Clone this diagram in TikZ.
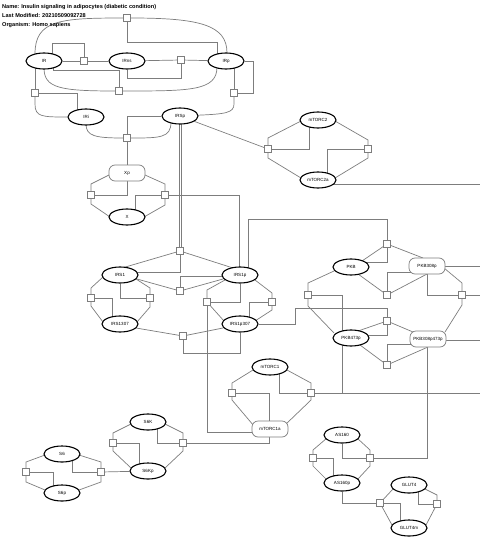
\documentclass[tikz,border=0pt]{standalone}
\usepackage{fontspec}
\setmainfont{Liberation Sans}
\usetikzlibrary{shapes.geometric,calc}
\pgfdeclarelayer{bg}
\pgfsetlayers{bg,main}
\definecolor{lncol}{RGB}{125,125,125}
\tikzset{
  ent/.style={ellipse,draw=black,line width=1.1pt,fill=white,minimum width=36pt,minimum height=16pt,inner sep=0pt,font=\fontsize{4.5}{5}\selectfont},
  rrect/.style={rectangle,rounded corners=6pt,draw=lncol,line width=0.7pt,fill=white,minimum width=36pt,minimum height=16pt,inner sep=0pt,font=\fontsize{4.5}{5}\selectfont},
  proc/.style={rectangle,draw=lncol,line width=0.7pt,fill=white,minimum size=7pt,inner sep=0pt},
  ln/.style={draw=lncol,line width=0.7pt},
}
\begin{document}
\begin{tikzpicture}[x=1pt,y=-1pt]
\useasboundingbox (0,0) rectangle (480,551);
\node[anchor=north west,align=left,inner sep=0pt,font=\bfseries\fontsize{5.6}{9}\selectfont] (hdr) at (2,4.5) {Name: Insulin signaling in adipocytes (diabetic condition)\\Last Modified: 20210509092728\\Organism: Homo sapiens};
% entities
\node[ent] (IR) at (44,61) {IR};
\node[ent] (IRns) at (127,61) {IRns};
\node[ent] (IRp) at (226,61) {IRp};
\node[ent] (IRi) at (86,117) {IRi};
\node[ent] (IRSp) at (180,116) {IRSp};
\node[rrect] (Xp) at (127,173) {Xp};
\node[ent] (X) at (127,217) {X};
\node[ent] (mTORC2) at (318,120) {mTORC2};
\node[ent] (mTORC2a) at (318,180) {mTORC2a};
\node[ent] (IRS1) at (120,275) {IRS1};
\node[ent] (IRS1p) at (240,275) {IRS1p};
\node[ent] (IRS1307) at (120,324) {IRS1307};
\node[ent] (IRS1p307) at (240,324) {IRS1p307};
\node[ent] (PKB) at (351,267) {PKB};
\node[rrect] (PKB308p) at (427,266) {PKB308p};
\node[ent] (PKB473p) at (351,338) {PKB473p};
\node[rrect] (PKB308p473p) at (428,339) {PKB308p473p};
\node[ent] (mTORC1) at (270,367) {mTORC1};
\node[rrect] (mTORC1a) at (270,429) {mTORC1a};
\node[ent] (S6K) at (148,422) {S6K};
\node[ent] (S6Kp) at (148,471) {S6Kp};
\node[ent] (S6) at (62,454) {S6};
\node[ent] (S6p) at (62,493) {S6p};
\node[ent] (AS160) at (342,435) {AS160};
\node[ent] (AS160p) at (342,483) {AS160p};
\node[ent] (GLUT4) at (409,485) {GLUT4};
\node[ent] (GLUT4m) at (409,528) {GLUT4m};
% process squares
\node[proc] (A0) at (127,18) {};
\node[proc] (A1) at (84,61) {};
\node[proc] (A2) at (181,60) {};
\node[proc] (A3) at (119,91) {};
\node[proc] (A4) at (35,93) {};
\node[proc] (A5) at (234,93) {};
\node[proc] (B1) at (127,138) {};
\node[proc] (C1) at (91,195) {};
\node[proc] (C2) at (165,195) {};
\node[proc] (D1) at (180,251) {};
\node[proc] (D2) at (180,291) {};
\node[proc] (D3) at (91,298) {};
\node[proc] (D4) at (150,298) {};
\node[proc] (D5) at (183,336) {};
\node[proc] (D6) at (207,302) {};
\node[proc] (D7) at (272,302) {};
\node[proc] (G1) at (268,149) {};
\node[proc] (G2) at (368,149) {};
\node[proc] (E1) at (387,244) {};
\node[proc] (E2) at (387,295) {};
\node[proc] (E3) at (308,295) {};
\node[proc] (E4) at (462,295) {};
\node[proc] (F3) at (387,321) {};
\node[proc] (F4) at (387,365) {};
\node[proc] (H1) at (232,393) {};
\node[proc] (H2) at (311,393) {};
\node[proc] (I1) at (113,443) {};
\node[proc] (I2) at (183,443) {};
\node[proc] (J1) at (313,458) {};
\node[proc] (J2) at (370,458) {};
\node[proc] (K1) at (380,503) {};
\node[proc] (K2) at (437,504) {};
\node[proc] (L1) at (26,472) {};
\node[proc] (L2) at (101,472) {};
% free ends at the right margin
\coordinate (rA) at (480,184);
\coordinate (rB) at (480,295);
\coordinate (rC) at (480,266);
\coordinate (rD) at (480,340);
\coordinate (rE) at (480,393);
\begin{pgfonlayer}{bg}
\begin{scope}[ln]
% A0
\draw ($(IR)+(-9,-7)$) .. controls (35,20) and (60,18) .. (A0);
\draw (A0) .. controls (200,18) and (227,25) .. ($(IRp)+(1,-8)$);
\draw (A0) -- (127,42) -| ($(IRp)+(-9,0)$);
% A1
\draw (IR) -- (A1) -- (IRns);
\draw ($(IR)+(8,0)$) |- (84,43) -- (A1);
% A2
\draw (IRns) -- (A2) -- (IRp);
\draw (A2) |- (127,78) -- (IRns);
% A3
\draw ($(IR)+(0,7)$) .. controls (44,88) and (60,91) .. (A3);
\draw (A3) .. controls (190,91) and (217,91) .. ($(IRp)+(-9,6)$);
\draw ($(IR)+(9,0)$) |- (119,70) -- (A3);
% A4
\draw ($(IR)+(-9,0)$) -- (A4);
\draw (A4) -- (35,104) .. controls (35,117) and (42,117) .. (IRi);
\draw (A4) -| ($(IRi)+(-9,0)$);
% A5
\draw ($(IRp)+(8,0)$) -- (A5);
\draw (IRp) -- (253,61) |- (A5);
\draw (A5) -- (234,104) .. controls (234,113) and (225,114) .. (IRSp);
% B1
\draw ($(IRi)+(0,7)$) .. controls (86,136) and (95,138) .. (B1);
\draw (B1) .. controls (160,138) and (171,138) .. ($(IRSp)+(-9,6)$);
\draw (B1) |- (IRSp);
\draw (B1) -- (Xp);
% C
\draw ($(Xp)+(-18,2)$) -- (91,184) -- (C1);
\draw (C1) -- (91,204) -- ($(X)+(-17,0)$);
\draw (C1) -| (Xp);
\draw ($(Xp)+(18,2)$) -- (165,184) -- (C2);
\draw (C2) -- (165,205) -- ($(X)+(17,0)$);
\draw (C2) -| ($(X)+(8,0)$);
\draw (C2) -| ($(IRS1p)+(-1,0)$);
% D1
\draw ($(IRSp)+(-1,0)$) -- ($(D1)+(-1,0)$);
\draw ($(IRSp)+(1,0)$) -- ($(D1)+(1,0)$);
\draw (D1) -- ($(IRS1)+(2,-7)$);
\draw (D1) -- ($(IRS1p)+(-7,-7)$);
\draw (D1) |- ($(IRS1)+(0,-3)$);
% D2
\draw ($(IRS1)+(17,4)$) -- (D2) -- ($(IRS1p)+(-17,4)$);
\draw (D2) |- ($(IRS1p)+(0,1)$);
% D3
\draw ($(IRS1)+(-17,2)$) -- (91,288) -- (D3);
\draw (D3) -- (91,306) -- ($(IRS1307)+(-17,-2)$);
\draw (D3) -| ($(IRS1307)+(-8,0)$);
% D4
\draw (IRS1) |- (D4);
\draw ($(IRS1)+(16,4)$) -- (150,288) -- (D4);
\draw (D4) -- (150,307) -- ($(IRS1307)+(17,-2)$);
% D5
\draw ($(IRS1307)+(16,4)$) -- (D5) -- ($(IRS1p307)+(-17,4)$);
\draw (D5) -- (183,353) -| (IRS1p307);
% D6
\draw ($(IRS1p)+(-15,5)$) -- (207,290) -- (D6);
\draw (D6) -| (IRS1p);
\draw (D6) -- ($(IRS1p307)+(-16,-3)$);
\draw (D6) |- ($(mTORC1a)+(0,3)$);
% D7
\draw ($(IRS1p)+(15,5)$) -- (272,293) -- (D7);
\draw (D7) -- (272,310) -- ($(IRS1p307)+(15,-3)$);
\draw (D7) -| ($(IRS1p307)+(9,0)$);
\draw (IRS1p307) -- (295,324) -- (295,308) -| (F3);
% IRS1p to E1
\draw ($(IRS1p)+(8,0)$) -- (248,219) -| (E1);
% G
\draw (IRSp) -- (G1);
\draw ($(mTORC2)+(-17,1)$) -- (268,138) -- (G1);
\draw (G1) -- (268,158) -- ($(mTORC2a)+(-17,-2)$);
\draw (G1) -| ($(mTORC2)+(-9,0)$);
\draw ($(mTORC2)+(17,1)$) -- (368,140) -- (G2);
\draw (G2) -- (368,158) -- ($(mTORC2a)+(17,-2)$);
\draw (G2) -| ($(mTORC2a)+(9,0)$);
\draw ($(mTORC2a)+(10,4)$) -- (rA);
% E
\draw ($(PKB)+(11,-6)$) -- (E1) -- ($(PKB308p)+(-4,-8)$);
\draw (E1) |- ($(PKB)+(0,-5)$);
\draw ($(PKB)+(7,7)$) -- (E2) -- ($(PKB308p)+(0,8)$);
\draw (E2) |- ($(PKB308p)+(0,6)$);
\draw ($(PKB)+(-17,4)$) -- (308,283) -- (E3);
\draw (E3) -- (308,306) -- ($(PKB473p)+(-17,-5)$);
\draw (E3) -| ($(PKB473p)+(-9,0)$);
\draw ($(PKB308p)+(17,2)$) -- (462,283) -- (E4);
\draw (E4) -- (462,305) -- ($(PKB308p473p)+(17,-7)$);
\draw (E4) -| (PKB308p);
\draw (E4) -- (rB);
\draw (PKB308p) -- (rC);
\draw ($(PKB308p473p)+(0,1)$) -- (rD);
% F
\draw ($(PKB473p)+(7,-7)$) -- (F3) -- ($(PKB308p473p)+(-15,-7)$);
\draw (F3) |- ($(PKB473p)+(0,-3)$);
\draw ($(PKB473p)+(9,7)$) -- (F4) -- ($(PKB308p473p)+(0,8)$);
\draw (F4) |- ($(PKB308p473p)+(0,5)$);
\draw ($(PKB473p)+(-9,0)$) |- (427,393) |- (J2);
\draw ($(PKB308p473p)+(-1,0)$) |- (J2);
\draw (H2) -- (rE);
% H
\draw ($(mTORC1)+(-17,3)$) -- (232,383) -- (H1);
\draw (H1) -- (232,400) -- ($(mTORC1a)+(-16,-3)$);
\draw (H1) -| ($(mTORC1a)+(-1,0)$);
\draw ($(mTORC1)+(17,3)$) -- (311,383) -- (H2);
\draw (H2) -- (311,400) -- ($(mTORC1a)+(15,-4)$);
\draw (H2) -| ($(mTORC1)+(9,0)$);
\draw ($(mTORC1a)+(-1,0)$) |- (I2);
% I
\draw ($(S6K)+(-17,2)$) -- (113,433) -- (I1);
\draw (I1) -- (113,451) -- ($(S6Kp)+(-17,-3)$);
\draw (I1) -| ($(S6Kp)+(-9,0)$);
\draw ($(S6K)+(17,2)$) -- (183,433) -- (I2);
\draw (I2) -- (183,451) -- ($(S6Kp)+(17,-3)$);
\draw (I2) -| ($(S6K)+(9,0)$);
% L
\draw ($(S6)+(-17,1)$) -- (26,462) -- (L1);
\draw (L1) -- (26,482) -- ($(S6p)+(-17,-3)$);
\draw (L1) -| ($(S6p)+(-9,0)$);
\draw ($(S6)+(17,1)$) -- (101,462) -- (L2);
\draw (L2) -- (101,482) -- ($(S6p)+(17,-3)$);
\draw (L2) -| ($(S6)+(10,0)$);
\draw (L2) -- (S6Kp);
% J
\draw ($(AS160)+(-15,3)$) -- (313,450) -- (J1);
\draw (J1) -- (313,466) -- ($(AS160p)+(-15,-3)$);
\draw (J1) -| ($(AS160p)+(-9,0)$);
\draw ($(AS160)+(15,3)$) -- (370,450) -- (J2);
\draw (J2) -- (370,466) -- ($(AS160p)+(15,-3)$);
\draw (J2) -| (AS160);
% K
\draw (AS160p) |- (K1);
\draw ($(GLUT4)+(-16,4)$) -- (K1);
\draw (K1) -- ($(GLUT4m)+(-17,-3)$);
\draw (K1) -| ($(GLUT4m)+(-9,0)$);
\draw ($(GLUT4)+(16,4)$) -- (437,495) -- (K2);
\draw (K2) -- ($(GLUT4m)+(17,-3)$);
\draw (K2) -| ($(GLUT4)+(9,0)$);
\end{scope}
\end{pgfonlayer}
\end{tikzpicture}
\end{document}
